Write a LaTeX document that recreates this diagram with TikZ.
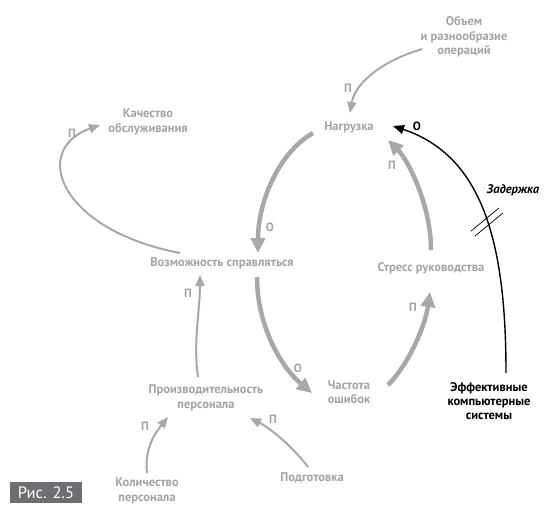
\documentclass[tikz,border=0pt]{standalone}
\usepackage{fontspec}
\setmainfont{PT Sans}
\usetikzlibrary{arrows.meta,calc}
\definecolor{gtxt}{HTML}{A2A4A7}
\definecolor{gline}{HTML}{A6A8AB}
\definecolor{boxg}{HTML}{6D6E71}
\begin{document}
\begin{tikzpicture}[x=1pt,y=-1pt,
  lbl/.style={font=\fontsize{12.5}{14.5}\selectfont\bfseries, text=gtxt, align=center, inner sep=0pt},
  blbl/.style={font=\fontsize{12.5}{14}\selectfont\bfseries, text=black, align=center, inner sep=0pt},
  sgn/.style={font=\fontsize{12}{13}\selectfont\bfseries, text=gtxt, inner sep=0pt},
  thickarr/.style={draw=gline, line width=4.5pt, -{Triangle[length=15pt,width=14pt]}},
  thinarr/.style={draw=gline, line width=2pt, -{Triangle[length=11pt,width=9pt]}},
  blackarr/.style={draw=black, line width=1.4pt, -{Triangle[length=11pt,width=9pt]}},
  delay/.style={draw=black, line width=0.7pt}]
\fill[white] (0,0) rectangle (556,514);
\useasboundingbox (0,0) rectangle (556,514);

% nodes
\node[lbl] (obem) at (464,37) {Объем\\и разнообразие\\операций};
\node[lbl] (nagr) at (349,127) {Нагрузка};
\node[lbl] (kach) at (148,122) {Качество\\обслуживания};
\node[lbl] (vozm) at (222,263) {Возможность справляться};
\node[lbl] (stress) at (431,268) {Стресс руководства};
\node[lbl] (chast) at (349,392) {Частота\\ошибок};
\node[lbl] (proizv) at (206,398) {Производительность\\персонала};
\node[lbl] (kolich) at (147,491) {Количество\\персонала};
\node[lbl] (podg) at (312,478) {Подготовка};
\node[blbl] (eff) at (489,401) {Эффективные\\компьютерные\\системы};
\node[font=\fontsize{12.5}{14}\selectfont\bfseries\itshape, inner sep=0pt] (zad) at (513,190) {Задержка};
\node[fill=boxg, text=white, font=\fontsize{16.5}{18}\selectfont, minimum width=72pt, minimum height=21pt, inner sep=0pt] (fig) at (46,492.5) {Рис. 2.5};

% connectors
\draw[thinarr] ($(obem)+(-42,12)$) .. controls +(-40,12) and +(5,-30) .. ($(nagr)+(1,-14)$);
\draw[thickarr] ($(nagr)+(-36,6)$) .. controls +(-35,20) and +(0,-50) .. ($(vozm)+(36,-10)$);
\draw[thickarr] ($(vozm)+(35,14)$) .. controls +(0,50) and +(-30,-25) .. ($(chast)+(-37,1)$);
\draw[thickarr] ($(chast)+(39,-7)$) .. controls +(20,-20) and +(-5,35) .. ($(stress)+(-1,24)$);
\draw[thickarr] ($(stress)+(0,-18)$) .. controls +(0,-45) and +(20,20) .. ($(nagr)+(39,13)$);
\draw[blackarr] ($(eff)+(17,-28)$) .. controls +(0,-130) and +(90,30) .. ($(nagr)+(44,-1)$);
\draw[thinarr] ($(vozm)+(-42,-10)$) .. controls +(-120,-23) and +(-70,25) .. ($(kach)+(-48,3)$);
\draw[thinarr] ($(proizv)+(-8,-21)$) .. controls +(-5,-35) and +(0,35) .. ($(vozm)+(-22,12)$);
\draw[thinarr] ($(kolich)+(0,-18)$) .. controls +(-3,-25) and +(-12,15) .. ($(proizv)+(-38,19)$);
\draw[thinarr] ($(podg)+(-4,-11)$) .. controls +(-15,-20) and +(20,10) .. ($(proizv)+(44,20)$);

% delay marks
\draw[delay] (471,231) -- (499,208);
\draw[delay] (475,236) -- (503,213);

% polarity labels
\node[sgn] (s1) at (348,88) {П};
\node[sgn] (s2) at (270,227) {О};
\node[sgn] (s3) at (298,368) {О};
\node[sgn] (s4) at (413,307) {П};
\node[sgn] (s5) at (392,165) {П};
\node[sgn, text=black] (s6) at (417,126) {О};
\node[sgn] (s7) at (72,133) {П};
\node[sgn] (s8) at (188,293) {П};
\node[sgn] (s9) at (145,426) {П};
\node[sgn] (s10) at (273,419) {П};
\end{tikzpicture}
\end{document}
